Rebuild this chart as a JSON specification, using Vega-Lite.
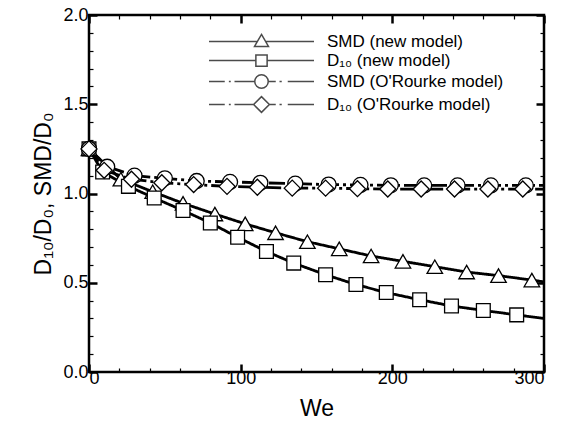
{
  "$schema": "https://vega.github.io/schema/vega-lite/v6.json",
  "width": 455,
  "height": 357,
  "autosize": "none",
  "padding": {"left": 89, "top": 15, "right": 25, "bottom": 53},
  "view": {"stroke": "black", "strokeWidth": 2.5},
  "config": {
    "axis": {"grid": false, "domain": false, "tickColor": "black", "labelColor": "black", "titleColor": "black", "titleFontWeight": "normal", "labelFont": "Liberation Sans", "titleFont": "Liberation Sans"}
  },
  "datasets": {
    "curves": [
      {"series": "SMD (new model)", "We": 0, "value": 1.25},
      {"series": "SMD (new model)", "We": 21, "value": 1.08},
      {"series": "SMD (new model)", "We": 42, "value": 1.01},
      {"series": "SMD (new model)", "We": 62, "value": 0.945},
      {"series": "SMD (new model)", "We": 83, "value": 0.885},
      {"series": "SMD (new model)", "We": 103, "value": 0.83},
      {"series": "SMD (new model)", "We": 123, "value": 0.78},
      {"series": "SMD (new model)", "We": 144, "value": 0.73},
      {"series": "SMD (new model)", "We": 165, "value": 0.69},
      {"series": "SMD (new model)", "We": 186, "value": 0.65},
      {"series": "SMD (new model)", "We": 207, "value": 0.62},
      {"series": "SMD (new model)", "We": 228, "value": 0.59},
      {"series": "SMD (new model)", "We": 249, "value": 0.56},
      {"series": "SMD (new model)", "We": 270, "value": 0.54},
      {"series": "SMD (new model)", "We": 292, "value": 0.515},
      {"series": "SMD (new model)", "We": 300, "value": 0.505},
      {"series": "D₁₀ (new model)", "We": 0, "value": 1.25},
      {"series": "D₁₀ (new model)", "We": 9, "value": 1.12},
      {"series": "D₁₀ (new model)", "We": 26, "value": 1.04},
      {"series": "D₁₀ (new model)", "We": 43, "value": 0.975},
      {"series": "D₁₀ (new model)", "We": 62, "value": 0.905},
      {"series": "D₁₀ (new model)", "We": 80, "value": 0.835},
      {"series": "D₁₀ (new model)", "We": 98, "value": 0.755},
      {"series": "D₁₀ (new model)", "We": 117, "value": 0.675},
      {"series": "D₁₀ (new model)", "We": 135, "value": 0.61},
      {"series": "D₁₀ (new model)", "We": 156, "value": 0.545},
      {"series": "D₁₀ (new model)", "We": 176, "value": 0.49},
      {"series": "D₁₀ (new model)", "We": 196, "value": 0.445},
      {"series": "D₁₀ (new model)", "We": 218, "value": 0.405},
      {"series": "D₁₀ (new model)", "We": 239, "value": 0.37},
      {"series": "D₁₀ (new model)", "We": 260, "value": 0.345},
      {"series": "D₁₀ (new model)", "We": 282, "value": 0.32},
      {"series": "D₁₀ (new model)", "We": 300, "value": 0.3},
      {"series": "SMD (O'Rourke model)", "We": 0, "value": 1.25},
      {"series": "SMD (O'Rourke model)", "We": 12, "value": 1.15},
      {"series": "SMD (O'Rourke model)", "We": 30, "value": 1.1},
      {"series": "SMD (O'Rourke model)", "We": 50, "value": 1.085},
      {"series": "SMD (O'Rourke model)", "We": 71, "value": 1.07},
      {"series": "SMD (O'Rourke model)", "We": 93, "value": 1.065},
      {"series": "SMD (O'Rourke model)", "We": 113, "value": 1.06},
      {"series": "SMD (O'Rourke model)", "We": 136, "value": 1.055},
      {"series": "SMD (O'Rourke model)", "We": 158, "value": 1.05},
      {"series": "SMD (O'Rourke model)", "We": 179, "value": 1.048},
      {"series": "SMD (O'Rourke model)", "We": 199, "value": 1.046},
      {"series": "SMD (O'Rourke model)", "We": 221, "value": 1.045},
      {"series": "SMD (O'Rourke model)", "We": 243, "value": 1.045},
      {"series": "SMD (O'Rourke model)", "We": 265, "value": 1.045},
      {"series": "SMD (O'Rourke model)", "We": 288, "value": 1.045},
      {"series": "SMD (O'Rourke model)", "We": 300, "value": 1.045},
      {"series": "D₁₀ (O'Rourke model)", "We": 0, "value": 1.25},
      {"series": "D₁₀ (O'Rourke model)", "We": 10, "value": 1.13},
      {"series": "D₁₀ (O'Rourke model)", "We": 28, "value": 1.08},
      {"series": "D₁₀ (O'Rourke model)", "We": 48, "value": 1.06},
      {"series": "D₁₀ (O'Rourke model)", "We": 69, "value": 1.05},
      {"series": "D₁₀ (O'Rourke model)", "We": 91, "value": 1.04},
      {"series": "D₁₀ (O'Rourke model)", "We": 111, "value": 1.035},
      {"series": "D₁₀ (O'Rourke model)", "We": 134, "value": 1.03},
      {"series": "D₁₀ (O'Rourke model)", "We": 156, "value": 1.03},
      {"series": "D₁₀ (O'Rourke model)", "We": 177, "value": 1.027},
      {"series": "D₁₀ (O'Rourke model)", "We": 197, "value": 1.025},
      {"series": "D₁₀ (O'Rourke model)", "We": 219, "value": 1.025},
      {"series": "D₁₀ (O'Rourke model)", "We": 241, "value": 1.025},
      {"series": "D₁₀ (O'Rourke model)", "We": 263, "value": 1.025},
      {"series": "D₁₀ (O'Rourke model)", "We": 286, "value": 1.025},
      {"series": "D₁₀ (O'Rourke model)", "We": 300, "value": 1.025}
    ]
  },
  "data": {"name": "curves"},
  "resolve": {"axis": {"x": "independent", "y": "independent"}, "scale": {"shape": "independent"}},
  "layer": [
    {
      "mark": {"type": "line", "strokeWidth": 2.8, "color": "black"},
      "encoding": {
        "x": {"field": "We", "type": "quantitative", "scale": {"domain": [0, 300], "nice": false, "zero": false},
          "axis": {"orient": "bottom", "values": [0, 100, 200, 300], "tickSize": -8, "tickWidth": 2.5, "labelFontSize": 18, "labelPadding": 5, "title": "We", "titleFontSize": 23, "titlePadding": 10}},
        "y": {"field": "value", "type": "quantitative", "scale": {"domain": [0, 2], "nice": false, "zero": false},
          "axis": {"orient": "left", "values": [0, 0.5, 1, 1.5, 2], "format": ".1f", "tickSize": -8, "tickWidth": 2.5, "labelFontSize": 18, "labelPadding": 9, "title": "D₁₀/D₀, SMD/D₀", "titleFontSize": 23, "titlePadding": 7}},
        "strokeDash": {"field": "series", "type": "nominal",
          "scale": {"domain": ["SMD (new model)", "D₁₀ (new model)", "SMD (O'Rourke model)", "D₁₀ (O'Rourke model)"], "range": [[1, 0], [1, 0], [16, 4, 3, 4], [16, 4, 3, 4]]},
          "legend": null}
      }
    },
    {
      "transform": [{"filter": "datum.series === 'SMD (new model)' && datum.We < 299"}],
      "mark": {"type": "point", "shape": "triangle-up", "size": 240, "filled": true, "fill": "white", "stroke": "black", "strokeWidth": 1.3, "opacity": 1},
      "encoding": {
        "x": {"field": "We", "type": "quantitative", "scale": {"domain": [0, 300], "nice": false, "zero": false},
          "axis": {"orient": "bottom", "values": [20, 40, 60, 80, 120, 140, 160, 180, 220, 240, 260, 280], "tickSize": -4, "tickWidth": 1.2, "labels": false, "title": null}},
        "y": {"field": "value", "type": "quantitative", "scale": {"domain": [0, 2], "nice": false, "zero": false},
          "axis": {"orient": "left", "values": [0.1, 0.2, 0.3, 0.4, 0.6, 0.7, 0.8, 0.9, 1.1, 1.2, 1.3, 1.4, 1.6, 1.7, 1.8, 1.9], "tickSize": -4, "tickWidth": 1.2, "labels": false, "title": null}}
      }
    },
    {
      "transform": [{"filter": "datum.series === 'D₁₀ (new model)' && datum.We < 299"}],
      "mark": {"type": "point", "shape": "square", "size": 190, "filled": true, "fill": "white", "stroke": "black", "strokeWidth": 1.3, "opacity": 1},
      "encoding": {
        "x": {"field": "We", "type": "quantitative", "scale": {"domain": [0, 300], "nice": false, "zero": false},
          "axis": {"orient": "top", "values": [0, 100, 200, 300], "tickSize": -8, "tickWidth": 2.5, "labels": false, "title": null}},
        "y": {"field": "value", "type": "quantitative", "scale": {"domain": [0, 2], "nice": false, "zero": false},
          "axis": {"orient": "right", "values": [0, 0.5, 1, 1.5, 2], "tickSize": -8, "tickWidth": 2.5, "labels": false, "title": null}}
      }
    },
    {
      "transform": [{"filter": "datum.series === \"SMD (O'Rourke model)\" && datum.We < 299"}],
      "mark": {"type": "point", "shape": "circle", "size": 225, "filled": true, "fill": "white", "stroke": "black", "strokeWidth": 1.3, "opacity": 1},
      "encoding": {
        "x": {"field": "We", "type": "quantitative", "scale": {"domain": [0, 300], "nice": false, "zero": false},
          "axis": {"orient": "top", "values": [20, 40, 60, 80, 120, 140, 160, 180, 220, 240, 260, 280], "tickSize": -4, "tickWidth": 1.2, "labels": false, "title": null}},
        "y": {"field": "value", "type": "quantitative", "scale": {"domain": [0, 2], "nice": false, "zero": false},
          "axis": {"orient": "right", "values": [0.1, 0.2, 0.3, 0.4, 0.6, 0.7, 0.8, 0.9, 1.1, 1.2, 1.3, 1.4, 1.6, 1.7, 1.8, 1.9], "tickSize": -4, "tickWidth": 1.2, "labels": false, "title": null}}
      }
    },
    {
      "transform": [{"filter": "datum.series === \"D₁₀ (O'Rourke model)\" && datum.We < 299"}],
      "mark": {"type": "point", "shape": "diamond", "size": 256, "filled": true, "fill": "white", "stroke": "black", "strokeWidth": 1.3, "opacity": 1},
      "encoding": {
        "x": {"field": "We", "type": "quantitative", "scale": {"domain": [0, 300], "nice": false, "zero": false}, "axis": null},
        "y": {"field": "value", "type": "quantitative", "scale": {"domain": [0, 2], "nice": false, "zero": false}, "axis": null}
      }
    },
    {
      "transform": [{"filter": "datum.We < 0"}],
      "mark": {"type": "point"},
      "encoding": {
        "x": {"field": "We", "type": "quantitative", "scale": {"domain": [0, 300], "nice": false, "zero": false}, "axis": null},
        "y": {"field": "value", "type": "quantitative", "scale": {"domain": [0, 2], "nice": false, "zero": false}, "axis": null},
        "shape": {"field": "series", "type": "nominal",
          "scale": {"domain": ["SMD (new model)", "D₁₀ (new model)", "SMD (O'Rourke model)", "D₁₀ (O'Rourke model)"],
            "range": [
              "M-7,0H-0.55M0.55,0H7M0,-0.95L0.93,0.65L-0.93,0.65Z",
              "M-7,0H-0.75M0.75,0H7M-0.75,-0.75H0.75V0.75H-0.75Z",
              "M-7,0H-4.9M-4.35,0H-4.1M-3.6,0H-0.9M0.9,0H1.9M2.4,0H2.7M3.5,0H7M-0.9,0A0.9,0.9 0 1,1 0.9,0A0.9,0.9 0 1,1 -0.9,0Z",
              "M-7,0H-4.9M-4.35,0H-4.1M-3.6,0H-1.05M1.05,0H1.9M2.4,0H2.7M3.5,0H7M-1.05,0L0,-1.05L1.05,0L0,1.05Z"
            ]},
          "legend": {"orient": "none", "legendX": 164, "legendY": 17, "title": " ", "titleFontSize": 1, "titlePadding": 0,
            "symbolSize": 225, "symbolStrokeColor": "black", "symbolFillColor": "white",
            "labelFontSize": 17, "labelColor": "black", "labelFont": "Liberation Sans", "labelOffset": 57, "labelLimit": 400, "rowPadding": 1}
        }
      }
    }
  ]
}
